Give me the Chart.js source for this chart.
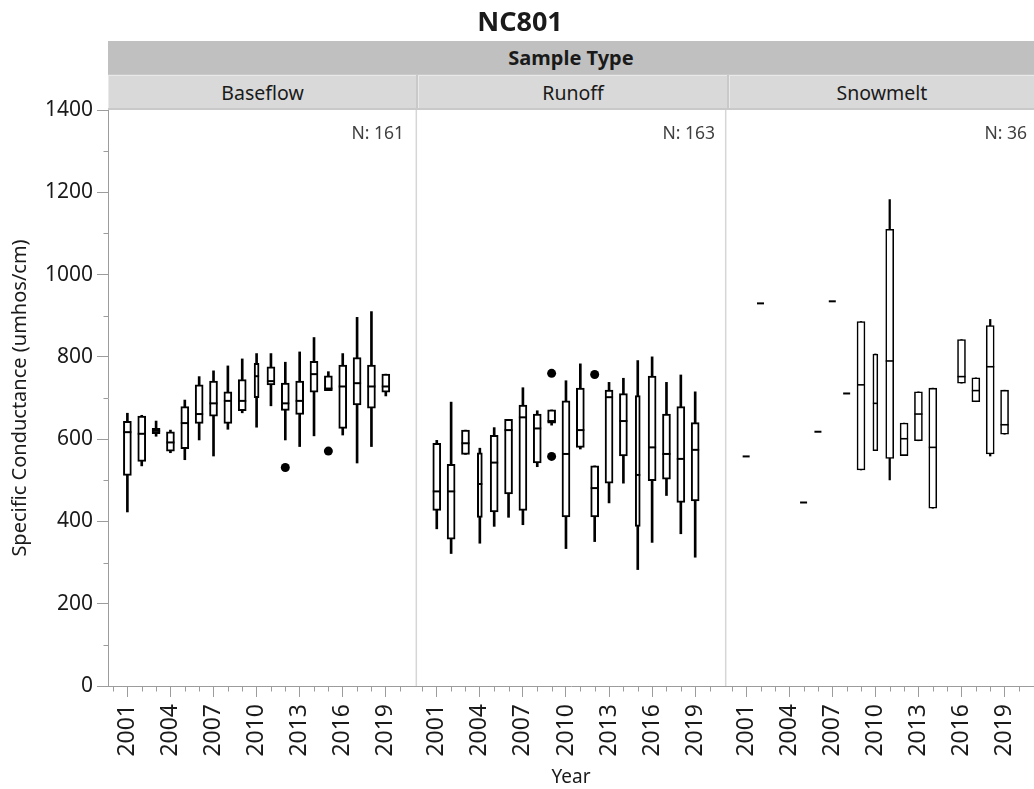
<!DOCTYPE html>
<html><head><meta charset="utf-8">
<script src="https://cdn.jsdelivr.net/npm/chart.js@4.4.0/dist/chart.umd.min.js"></script>
<style>
html,body{margin:0;padding:0;background:#fff;overflow:hidden;width:1034px;height:789px;}
#wrap{position:relative;width:1034px;height:789px;overflow:hidden;font-family:"Noto Sans","Open Sans",sans-serif;color:#1a1a1a;}
#c{position:absolute;left:0;top:0;}
.abs{position:absolute;white-space:nowrap;z-index:2;}
#title{left:0;width:1040px;top:4px;text-align:center;font-weight:bold;font-size:27px;line-height:34px;}
#band{left:108px;top:41px;width:932px;height:33px;background:#c0c0c0;}
#bandText{left:108px;width:926px;top:41px;height:33px;line-height:33px;text-align:center;font-weight:bold;font-size:20px;}
#hdrBack{left:108px;top:74px;width:932px;height:36px;background:#c9c9c9;}
.hdr{top:75px;height:33px;line-height:33px;background:#d9d9d9;border-top:1px solid #e9e9e9;text-align:center;font-size:19.5px;box-sizing:border-box;border-left:1px solid #e9e9e9;}
.nlab{top:120px;font-size:17.5px;line-height:24px;color:#404040;text-align:right;}
</style>
</head>
<body>
<div id="wrap">
<canvas id="c" width="1040" height="789"></canvas>
<div class="abs" id="title">NC801</div>
<div class="abs" id="band"></div>
<div class="abs" id="bandText">Sample Type</div>
<div class="abs" id="hdrBack"></div>
<div class="abs hdr" style="left:108px;width:308px;">Baseflow</div>
<div class="abs hdr" style="left:418px;width:309px;">Runoff</div>
<div class="abs hdr" style="left:729px;width:311px;padding-right:6px;">Snowmelt</div>
<div class="abs nlab" style="left:290px;width:114px;">N: 161</div>
<div class="abs nlab" style="left:601px;width:114px;">N: 163</div>
<div class="abs nlab" style="left:912px;width:115px;">N: 36</div>
</div>
<script>
// ---------------- data ----------------
const panels = ["Baseflow", "Runoff", "Snowmelt"];
const majorYears = [2001, 2004, 2007, 2010, 2013, 2016, 2019];
const allYears = [2000,2001,2002,2003,2004,2005,2006,2007,2008,2009,2010,2011,2012,2013,2014,2015,2016,2017,2018,2019,2020];
const yTickValues = [0, 200, 400, 600, 800, 1000, 1200, 1400];

// box stats per year: [min, q1, median, q3, max]
const baseflowYears = [2001,2002,2003,2004,2005,2006,2007,2008,2009,2010,2011,2012,2013,2014,2015,2016,2017,2018,2019];
const baseflowBoxes = [
  [423,512,617,643,663],[535,546,613,656,658],[607,613,620,626,644],[567,571,592,618,622],
  [550,577,639,679,695],[598,638,661,732,752],[559,656,687,741,766],[624,638,693,715,778],
  [664,669,693,745,795],[629,701,753,784,808],[681,732,741,776,808],[598,670,687,736,787],
  [582,660,693,741,812],[608,714,758,789,847],[718,718,723,754,764],[610,626,728,780,808],
  [542,683,736,798,896],[582,675,728,780,910],[705,714,728,758,758]
];
const baseflowOutYears = [2012, 2015];
const baseflowOutValues = [531, 571];

const runoffYears = [2001,2002,2003,2004,2005,2006,2007,2008,2009,2010,2011,2012,2013,2014,2015,2016,2017,2018,2019];
const runoffBoxes = [
  [382,427,473,590,597],[322,357,473,539,690],[563,563,590,622,622],[347,410,491,567,578],
  [388,423,543,609,628],[410,467,622,648,648],[392,427,653,683,725],[533,542,626,661,669],
  [634,639,644,671,671],[334,411,564,693,742],[576,580,622,724,783],[351,411,481,535,535],
  [445,493,702,719,738],[493,559,644,711,748],[283,388,513,706,791],[349,499,580,753,800],
  [463,503,564,661,738],[370,446,552,679,756],[313,450,574,640,715]
];
const runoffOutYears = [2009, 2009, 2012];
const runoffOutValues = [760, 558, 757];

const snowYears = [2009,2010,2011,2012,2013,2014,2016,2017,2018,2019];
const snowBoxes = [
  [525,525,732,886,886],[572,572,687,807,807],[501,553,790,1110,1182],[560,560,601,639,639],
  [596,596,661,715,715],[432,432,580,724,724],[736,736,752,842,842],[691,691,718,749,749],
  [559,564,776,876,891],[612,612,635,719,719]
];
const snowSingleYears = [2001, 2002, 2005, 2006, 2007, 2008];
const snowSingleValues = [558, 930, 446, 618, 935, 711];

const nCounts = [161, 163, 36];

// narrow-box years (style only)
const narrowYears = [[2010], [2004, 2015], [2010]];

// ---------------- layout helpers ----------------
const P = 21.55;      // panel period in x units (years incl. gap)
const W = 21.4;       // panel width in years
const Y0 = 1999.65;   // first year at panel left edge
const ux = (p, yr) => p * P + (yr - Y0);

const FONT = '"Noto Sans", "Open Sans", sans-serif';
Chart.defaults.font.family = FONT;
Chart.defaults.color = '#1a1a1a';

const datasets = [];
function addPanel(p, years, boxes, lw) {
  const nar = narrowYears[p];
  const wh = [], bxN = [], bxW = [], med = [];
  years.forEach((yr, i) => {
    const b = boxes[i];
    const x = ux(p, yr);
    const isN = nar.includes(yr);
    wh.push({x: x, y: [b[0], b[4]]});
    (isN ? bxN : bxW).push({x: x, y: [b[1], b[3]]});
    med.push({x: x, y: b[2], narrow: isN});
  });
  datasets.push({type: 'bar', data: wh, backgroundColor: '#000', borderWidth: 0, barThickness: lw, grouped: false, order: 6});
  datasets.push({type: 'bar', data: bxW, backgroundColor: '#fff', borderColor: '#000', borderWidth: lw, borderSkipped: false, barThickness: 8, grouped: false, order: 5});
  datasets.push({type: 'bar', data: bxN, backgroundColor: '#fff', borderColor: '#000', borderWidth: lw, borderSkipped: false, barThickness: 5, grouped: false, order: 5});
  datasets.push({type: 'scatter', data: med, pointStyle: 'line', pointRadius: c => (c.raw && c.raw.narrow) ? 2.5 : 4, borderColor: '#000', borderWidth: lw, order: 2});
}
addPanel(0, baseflowYears, baseflowBoxes, 2);
addPanel(1, runoffYears, runoffBoxes, 2);
addPanel(2, snowYears, snowBoxes, 1.6);

const outliers = [];
baseflowOutYears.forEach((yr, i) => outliers.push({x: ux(0, yr), y: baseflowOutValues[i]}));
runoffOutYears.forEach((yr, i) => outliers.push({x: ux(1, yr), y: runoffOutValues[i]}));
datasets.push({type: 'scatter', data: outliers, pointStyle: 'circle', pointRadius: 4.5, backgroundColor: '#000', borderWidth: 0, order: 1});

const singles = snowSingleYears.map((yr, i) => ({x: ux(2, yr), y: snowSingleValues[i]}));
datasets.push({type: 'scatter', data: singles, pointStyle: 'line', pointRadius: 3.5, borderColor: '#000', borderWidth: 2, order: 1});

const AX = '#9c9c9c';

const extras = {
  id: 'extras',
  beforeDatasetsDraw(chart) {
    const {ctx, chartArea: a, scales: {x}} = chart;
    ctx.save();
    ctx.strokeStyle = '#d6d6d6';
    ctx.lineWidth = 1.5;
    for (let p = 1; p < panels.length; p++) {
      const px = x.getPixelForValue(p * P - (P - W) / 2);
      ctx.beginPath(); ctx.moveTo(px, a.top); ctx.lineTo(px, a.bottom); ctx.stroke();
    }
    ctx.restore();
  },
  afterDraw(chart) {
    const {ctx, chartArea: a, scales: {x, y}} = chart;
    ctx.save();
    ctx.strokeStyle = AX;
    ctx.lineWidth = 1;
    for (let p = 0; p < panels.length; p++) {
      allYears.forEach(yr => {
        if (majorYears.includes(yr)) return;
        const px = Math.round(x.getPixelForValue(ux(p, yr))) + 0.5;
        ctx.beginPath(); ctx.moveTo(px, a.bottom); ctx.lineTo(px, a.bottom + 5.5); ctx.stroke();
      });
    }
    for (let v = 100; v < 1400; v += 200) {
      const py = Math.round(y.getPixelForValue(v)) + 0.5;
      ctx.beginPath(); ctx.moveTo(a.left - 4.5, py); ctx.lineTo(a.left, py); ctx.stroke();
    }
    ctx.restore();
  }
};

new Chart(document.getElementById('c'), {
  type: 'bar',
  data: {datasets},
  options: {
    responsive: false,
    animation: false,
    events: [],
    layout: {padding: {top: 110, left: 0, right: 2, bottom: 0}},
    plugins: {legend: {display: false}, tooltip: {enabled: false}, title: {display: false}},
    scales: {
      x: {
        type: 'linear', min: 0, max: 3 * W + 2 * (P - W), offset: false,
        afterBuildTicks: s => {
          const t = [];
          for (let p = 0; p < panels.length; p++) majorYears.forEach(yr => t.push({value: ux(p, yr)}));
          s.ticks = t;
        },
        afterFit: s => { s.height = 103; },
        ticks: {
          autoSkip: false, minRotation: 90, maxRotation: 90, padding: 7,
          font: {size: 23, family: FONT}, color: '#1a1a1a',
          callback: v => {
            const p = Math.floor(v / P + 1e-6);
            return String(Math.round(v - p * P + Y0));
          }
        },
        grid: {display: true, drawOnChartArea: false, tickLength: 11, tickColor: AX, offset: false},
        border: {display: true, color: AX, width: 1},
        title: {display: true, text: 'Year', font: {size: 19, family: FONT}, color: '#1a1a1a', padding: {top: 0, bottom: 0}}
      },
      y: {
        type: 'linear', min: 0, max: 1400,
        afterBuildTicks: s => { s.ticks = yTickValues.map(v => ({value: v})); },
        afterFit: s => { s.width = 108; },
        ticks: {font: {size: 21, family: FONT}, color: '#1a1a1a', padding: 4, callback: v => String(v)},
        grid: {display: true, drawOnChartArea: false, tickLength: 11, tickColor: AX},
        border: {display: true, color: AX, width: 1},
        title: {display: true, text: 'Specific Conductance (umhos/cm)', font: {size: 20, family: FONT}, color: '#1a1a1a', padding: {top: 8, bottom: 0}}
      }
    }
  },
  plugins: [extras]
});
</script>
</body></html>
